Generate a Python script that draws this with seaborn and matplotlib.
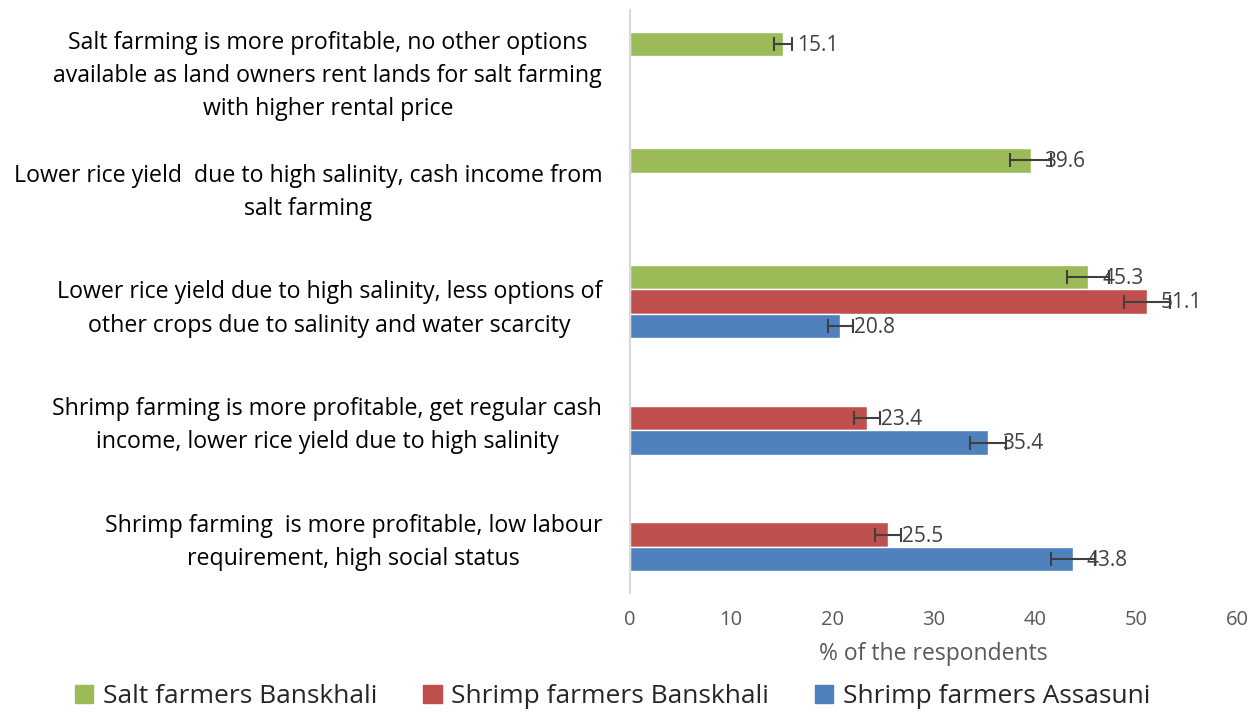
import matplotlib
matplotlib.use("Agg")
import matplotlib.pyplot as plt
import numpy as np
import pandas as pd
import seaborn as sns

reasons = [
    "Salt farming is more profitable, no other options\navailable as land owners rent lands for salt farming\nwith higher rental price",
    "Lower rice yield  due to high salinity, cash income from\nsalt farming",
    "Lower rice yield due to high salinity, less options of\nother crops due to salinity and water scarcity",
    "Shrimp farming is more profitable, get regular cash\nincome, lower rice yield due to high salinity",
    "Shrimp farming  is more profitable, low labour\nrequirement, high social status",
]
groups = ["Salt farmers Banskhali", "Shrimp farmers Banskhali", "Shrimp farmers Assasuni"]
salt_banskhali = [15.1, 39.6, 45.3, np.nan, np.nan]
shrimp_banskhali = [np.nan, np.nan, 51.1, 23.4, 25.5]
shrimp_assasuni = [np.nan, np.nan, 20.8, 35.4, 43.8]
salt_err = [0.9, 2.0, 2.1, np.nan, np.nan]
shrimp_b_err = [np.nan, np.nan, 2.3, 1.3, 1.3]
shrimp_a_err = [np.nan, np.nan, 1.2, 1.8, 2.2]
colors = ["#9BBB59", "#C0504D", "#4F81BD"]

df = pd.DataFrame({
    "reason": reasons * 3,
    "group": np.repeat(groups, len(reasons)),
    "pct": salt_banskhali + shrimp_banskhali + shrimp_assasuni,
    "err": salt_err + shrimp_b_err + shrimp_a_err,
})

sns.set_style("white")
plt.rcParams["font.family"] = ["Open Sans", "DejaVu Sans"]

fig = plt.figure(figsize=(12.6, 7.23), dpi=100)
ax = fig.add_axes([0.5, 1 - 593 / 723, 0.4817, 583 / 723])

sns.barplot(data=df, y="reason", x="pct", hue="group", hue_order=groups,
            order=reasons, palette=colors, orient="h", width=0.63,
            saturation=1, errorbar=None, legend=False, ax=ax)

# error bars and value labels, positioned from the drawn bars (NaN rows have no bar)
for container, grp in zip(ax.containers, groups):
    sub = df[df["group"] == grp].set_index("reason").loc[reasons].dropna()
    for bar, val, err in zip(container, sub["pct"], sub["err"]):
        yc = bar.get_y() + bar.get_height() / 2
        ax.errorbar(val, yc, xerr=err, fmt="none", ecolor="#404040",
                    elinewidth=1.5, capsize=5, capthick=1.5)
        ax.annotate(f"{val:.1f}", (val, yc), xytext=(10, -1), textcoords="offset points",
                    ha="left", va="center", fontsize=15, color="#404040")

ax.set_xlim(0, 60)
ax.set_xticks(range(0, 61, 10))
ax.set_ylim(4.5, -0.5)
ax.set_ylabel("")
ax.set_xlabel("% of the respondents", fontsize=16.5, color="#595959", labelpad=9)
ax.tick_params(axis="x", length=0, labelsize=14.5, labelcolor="#595959", pad=12)
ax.tick_params(axis="y", length=0, labelsize=16.7, labelcolor="black", pad=20)
for t in ax.get_yticklabels():
    t.set_multialignment("center")
    t.set_linespacing(1.5)
for s in ["top", "right", "bottom"]:
    ax.spines[s].set_visible(False)
ax.spines["left"].set_color("#D9D9D9")
ax.spines["left"].set_linewidth(1.5)

handles = [plt.Rectangle((0, 0), 1, 1, color=c) for c in colors]
fig.legend(handles, groups, loc="center", bbox_to_anchor=(0.486, 0.036), ncol=3,
           frameon=False, fontsize=19, handlelength=0.7, handleheight=0.7,
           handletextpad=0.35, columnspacing=1.75, borderpad=0)

fig.savefig("out.png", dpi=100)
